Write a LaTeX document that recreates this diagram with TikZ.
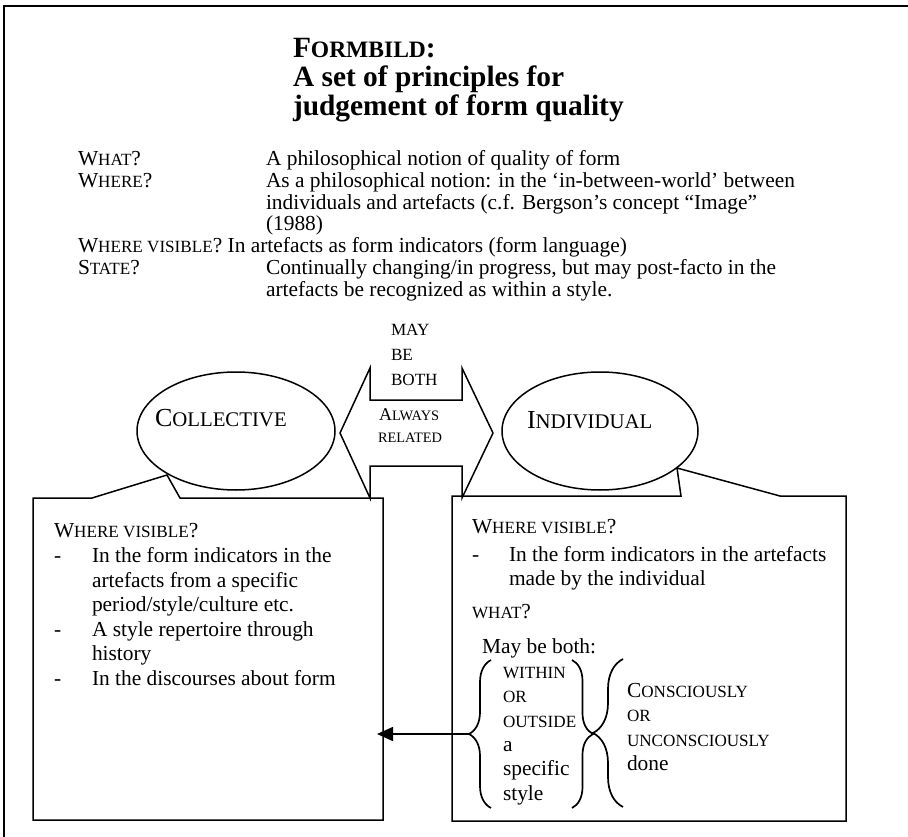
\documentclass[tikz,border=0pt]{standalone}
\usepackage{fontspec}
\setmainfont{Liberation Serif}
\usetikzlibrary{shapes.geometric,arrows.meta,decorations.pathreplacing}

\makeatletter
% small capitals drawn from capitals at 80% of the current size
\newcommand\smc[1]{{\fontsize{\fpeval{0.8*\f@size}}{\f@baselineskip}\selectfont #1}}
\makeatother
\newcommand\bodyfont{\fontsize{21.4}{24.5}\selectfont}
\newcommand\titlefont{\bfseries\fontsize{29.4}{29.4}\selectfont}
\newcommand\arrowfont{\fontsize{18}{22}\selectfont}
\newcommand\ovalfont{\fontsize{26}{30}\selectfont}

\begin{document}
\begin{tikzpicture}[x=1pt,y=-1pt,
  line join=miter,
  txt/.style={anchor=base west,inner sep=0pt,outer sep=0pt,font=\bodyfont},
  ttl/.style={txt,font=\titlefont},
  arrtxt/.style={txt,font=\arrowfont},
  ovtxt/.style={txt,font=\ovalfont},
  outline/.style={draw=black,line width=1.5pt},
  oval/.style={ellipse,draw=black,line width=1.5pt,inner sep=0pt},
  bracepath/.style={draw=black,line width=1.7pt,decorate},
]
\useasboundingbox (0,0) rectangle (908,837);

% page frame
\draw[line width=2pt] (4,837) -- (4,6) -- (908,6);

% title
\node[ttl] (title1) at (293,58) {F\smc{ORMBILD}:};
\node[ttl] (title2) at (293,87) {A set of principles for};
\node[ttl] (title3) at (293,116) {judgement of form quality};

% definition block
\node[txt] (lwhat) at (78,166) {W\smc{HAT}?};
\node[txt] (vwhat) at (266,166) {A philosophical notion of quality of form};
\node[txt] (lwhere) at (78,188) {W\smc{HERE}?};
\node[txt] (vwhere1) at (266,188) {As a philosophical notion: in the ‘in-between-world’ between};
\node[txt] (vwhere2) at (266,210) {individuals and artefacts (c.f. Bergson’s concept “Image”};
\node[txt] (vwhere3) at (266,231) {(1988)};
\node[txt] (lvis) at (78,253) {W\smc{HERE VISIBLE}? In artefacts as form indicators (form language)};
\node[txt] (lstate) at (78,275) {S\smc{TATE}?};
\node[txt] (vstate1) at (266,275) {Continually changing/in progress, but may post-facto in the};
\node[txt] (vstate2) at (266,297) {artefacts be recognized as within a style.};

% double-headed block arrow between the two ovals
\draw[outline] (340,433) -- (370,368) -- (370,400) -- (462,400) -- (462,368)
  -- (493,433) -- (462,498) -- (462,466) -- (370,466) -- (370,498) -- cycle;
\node[txt] (may) at (391,335) {\smc{MAY}};
\node[txt] (be) at (391,360) {\smc{BE}};
\node[txt] (both) at (391,385) {\smc{BOTH}};
\node[arrtxt] (always) at (379,420) {A\smc{LWAYS}};
\node[arrtxt] (related) at (378,442) {\smc{RELATED}};

% ovals
\node[oval,minimum width=198pt,minimum height=118pt] (coll) at (236,431) {};
\node[oval,minimum width=196pt,minimum height=118pt] (indiv) at (600,431) {};
\node[ovtxt] (colltxt) at (155,426) {C\smc{OLLECTIVE}};
\node[ovtxt] (indivtxt) at (527,428) {I\smc{NDIVIDUAL}};

% callout boxes hanging from the ovals
\coordinate (collptr) at (167,475);
\coordinate (indivptr) at (677,468);
\draw[outline] (33,498) -- (92,498) -- (collptr) -- (180,498) -- (383,498)
  -- (383,820) -- (33,820) -- cycle;
\draw[outline] (452,496) -- (681,496) -- (indivptr) -- (780,496) -- (846,496)
  -- (846,821) -- (452,821) -- cycle;

% collective box text
\node[txt] (cvis) at (54,537) {W\smc{HERE VISIBLE}?};
\node[txt] (cd1) at (54,562) {-};
\node[txt] (ca1) at (92,562) {In the form indicators in the};
\node[txt] (ca2) at (92,587) {artefacts from a specific};
\node[txt] (ca3) at (92,611) {period/style/culture etc.};
\node[txt] (cd2) at (54,636) {-};
\node[txt] (cb1) at (92,636) {A style repertoire through};
\node[txt] (cb2) at (92,660) {history};
\node[txt] (cd3) at (54,685) {-};
\node[txt] (cc1) at (92,685) {In the discourses about form};

% individual box text
\node[txt] (ivis) at (472,533) {W\smc{HERE VISIBLE}?};
\node[txt] (id1) at (472,561) {-};
\node[txt] (ia1) at (509,561) {In the form indicators in the artefacts};
\node[txt] (ia2) at (509,585) {made by the individual};
\node[txt] (iwhat) at (472,618) {\smc{WHAT}?};
\node[txt] (iboth) at (482,653) {May be both:};
\node[txt] (w1) at (503,678) {\smc{WITHIN}};
\node[txt] (w2) at (503,702) {\smc{OR}};
\node[txt] (w3) at (503,727) {\smc{OUTSIDE}};
\node[txt] (w4) at (503,751) {a};
\node[txt] (w5) at (503,775) {specific};
\node[txt] (w6) at (503,800) {style};
\node[txt] (k1) at (627,697) {C\smc{ONSCIOUSLY}};
\node[txt] (k2) at (627,721) {\smc{OR}};
\node[txt] (k3) at (627,746) {\smc{UNCONSCIOUSLY}};
\node[txt] (k4) at (627,770) {done};

% braces
\draw[bracepath,decoration={brace,amplitude=22pt}] (491,808) -- (491,660);
\draw[bracepath,decoration={brace,amplitude=21pt}] (572,660) -- (572,808);
\draw[bracepath,decoration={brace,amplitude=30pt}] (623,807) -- (623,659);
\coordinate (bracetip) at (469,734);
\coordinate (collside) at (377,734);

% arrow from the individual box to the collective box
\draw[line width=1.5pt,-{Triangle[length=16pt,width=14pt]}] (bracetip) -- (collside);
\end{tikzpicture}
\end{document}
